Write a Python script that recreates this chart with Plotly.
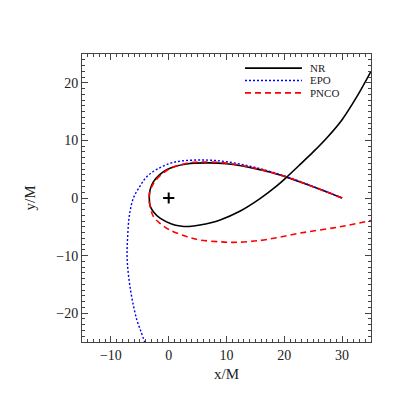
import plotly.graph_objects as go

# NR trajectory (black solid)
nr_x = [30, 27.5, 25, 22.5, 20.4, 17.5, 15, 12.5, 10, 7, 4.5, 3.1, 1.2, -0.35, -1.6, -2.66, -3.2, -3.36,
        -3.2, -2.66, -1.5, 0.5, 2.0, 3.5, 5.4, 8.9, 12.3, 15.8, 18.7, 20.4, 22.5, 25, 27.5, 30, 32.5, 35]
nr_y = [0, 1.0, 1.95, 2.85, 3.6, 4.5, 5.1, 5.6, 5.95, 6.1, 6.05, 5.9, 5.5, 4.9, 4.0, 2.8, 1.5, 0,
        -1.4, -2.4, -3.5, -4.5, -4.86, -4.95, -4.7, -3.8, -2.3, -0.1, 2.1, 3.6, 5.6, 8.0, 10.6, 13.6, 17.5, 22.0]

# EPO trajectory (blue dotted)
epo_x = [30, 25, 20.4, 15, 10, 6, 2, 0.2, -2, -3.8, -5.0, -6.1, -6.8, -7.1, -7.2, -7.0, -6.6, -6.1, -5.5, -4.8, -4.15]
epo_y = [0, 2.0, 3.7, 5.3, 6.3, 6.6, 6.4, 6.0, 5.0, 3.7, 2.0, 0, -3.0, -6.7, -10.2, -13.0, -16.0, -18.7, -21.2, -23.2, -25]

# PNCO trajectory (red dashed)
pnco_x = [30, 25, 20.4, 15, 10, 6, 3, 0, -2.3, -3.3, -3.4, -3.2, -2.66, -1.5, 0.2, 3.1, 5.4, 8.9, 11.2,
          14, 17, 22.7, 29.6, 35]
pnco_y = [0, 1.95, 3.65, 5.15, 6.05, 6.25, 6.0, 5.0, 3.0, 1.0, 0, -1.5, -3.2, -4.4, -5.55, -6.7, -7.3, -7.6, -7.7,
          -7.55, -7.2, -6.1, -5.0, -3.9]

# central black hole marker
bh_x = [0]
bh_y = [0]

legend_names = ["NR", "EPO", "PNCO"]
legend_colors = ["black", "blue", "red"]
legend_dashes = ["solid", "2px,2px", "6px,4px"]

serif = "Liberation Serif"

fig = go.Figure()
fig.add_trace(go.Scatter(x=nr_x, y=nr_y, mode="lines", name="NR",
                         line=dict(color="black", width=1.6, shape="spline")))
fig.add_trace(go.Scatter(x=epo_x, y=epo_y, mode="lines", name="EPO",
                         line=dict(color="blue", width=1.4, dash="2px,2px", shape="spline")))
fig.add_trace(go.Scatter(x=pnco_x, y=pnco_y, mode="lines", name="PNCO",
                         line=dict(color="red", width=1.6, dash="6px,4px", shape="spline")))
fig.add_trace(go.Scatter(x=bh_x, y=bh_y, mode="markers",
                         marker=dict(symbol="cross-thin", size=8, line=dict(color="black", width=2))))

# hand drawn legend (long line samples like the original)
for i, (nm, col, dsh) in enumerate(zip(legend_names, legend_colors, legend_dashes)):
    yy = 0.951 - i * 0.043
    fig.add_shape(type="line", xref="paper", yref="paper", x0=0.564, x1=0.761, y0=yy, y1=yy,
                  line=dict(color=col, width=1.6, dash=dsh))
    fig.add_annotation(xref="paper", yref="paper", x=0.785, y=yy, text=nm, showarrow=False,
                       xanchor="left", yanchor="middle", borderpad=0,
                       font=dict(family=serif, size=11, color="#222"))

axis_style = dict(showline=True, mirror="allticks", linecolor="#444", linewidth=1,
                  ticks="inside", ticklen=6, tickcolor="#444", showgrid=False, zeroline=False,
                  tickfont=dict(family=serif, size=14, color="#222"))

fig.update_xaxes(range=[-15, 35], tick0=-10, dtick=10,
                 minor=dict(dtick=1, ticks="inside", ticklen=3, tickcolor="#444"),
                 title=dict(text="x/M", font=dict(family=serif, size=15, color="#222"), standoff=6),
                 **axis_style)
fig.update_yaxes(range=[-25, 25], tick0=-20, dtick=10,
                 minor=dict(dtick=1, ticks="inside", ticklen=3, tickcolor="#444"),
                 title=dict(text="y/M", font=dict(family=serif, size=15, color="#222"), standoff=17),
                 **axis_style)

# page body has an 8px margin, so the plot margins are shifted to compensate
fig.update_layout(
    width=395, height=395,
    margin=dict(l=74, r=32, t=46, b=61),
    plot_bgcolor="white", paper_bgcolor="white",
    showlegend=False,
)

fig.write_html("out.html")
